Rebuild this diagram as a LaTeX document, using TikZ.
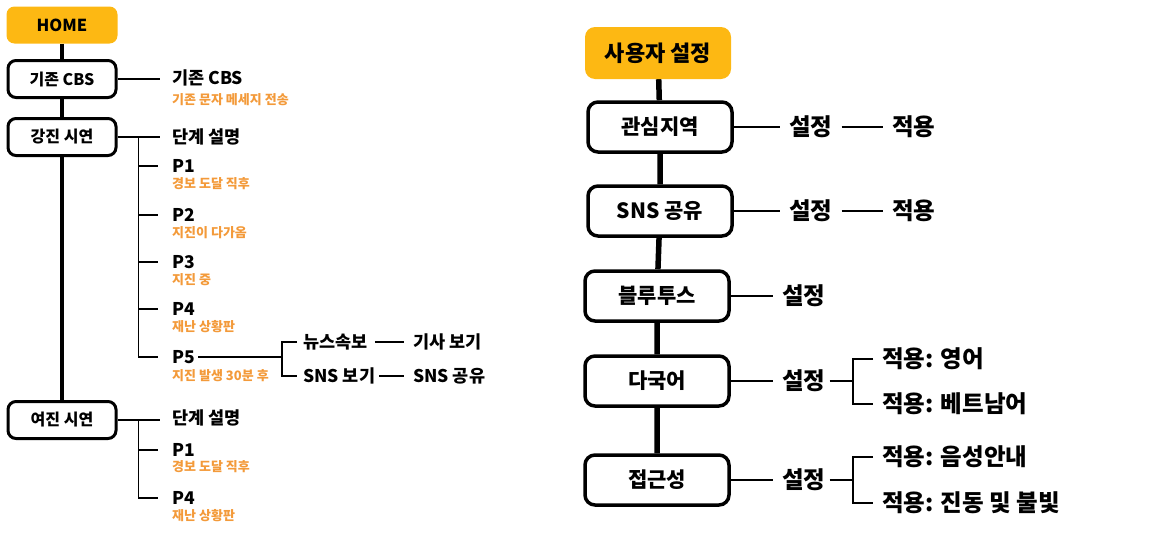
\documentclass[tikz,border=0pt]{standalone}
\usepackage{fontspec}
\usetikzlibrary{backgrounds}
\newfontfamily\kr{Noto Sans CJK KR}
\definecolor{homeorange}{HTML}{FDB813}
\definecolor{noteorange}{HTML}{F39A3A}
\tikzset{
  menu/.style={draw, line width=3pt, rounded corners=8pt, fill=white,
    minimum width=108pt, minimum height=37pt, inner sep=0pt,
    font=\kr\bfseries\fontsize{16}{18}\selectfont},
  topmenu/.style={fill=homeorange, rounded corners=8pt,
    minimum width=111pt, minimum height=37pt, inner sep=0pt,
    font=\kr\bfseries\fontsize{16.5}{18}\selectfont},
  setbox/.style={draw, line width=3.5pt, rounded corners=10pt, fill=white,
    minimum width=144pt, minimum height=50pt, inner sep=0pt,
    font=\kr\bfseries\fontsize{21}{23}\selectfont},
  settop/.style={fill=homeorange, rounded corners=10pt,
    minimum width=146pt, minimum height=52pt, inner sep=0pt,
    font=\kr\bfseries\fontsize{22}{24}\selectfont},
  item/.style={anchor=west, inner sep=1pt, font=\kr\bfseries\fontsize{17.5}{19}\selectfont},
  note/.style={anchor=west, inner sep=1pt, text=noteorange,
    font=\kr\bfseries\fontsize{13}{15}\selectfont},
  bigitem/.style={anchor=west, inner sep=1pt, font=\kr\bfseries\fontsize{23.5}{25}\selectfont},
  trunk/.style={line width=4.5pt},
  link/.style={line width=1.2pt},
}
\begin{document}
\begin{tikzpicture}[x=1pt,y=-1pt]
\useasboundingbox (0,0) rectangle (1162,541);

% left tree: HOME
\node[topmenu] (home) at (62,25) {HOME};
\node[menu] (cbs) at (62,79) {기존 CBS};
\node[menu] (gj) at (62,137) {강진 시연};
\node[menu] (yj) at (62,420) {여진 시연};
\begin{scope}[on background layer]
\draw[trunk] (home) -- (cbs) -- (gj) -- (yj);
\end{scope}

\node[item] (cbsI) at (171,78) {기존 CBS};
\node[note] (cbsN) at (171,100) {기존 문자 메세지 전송};
\draw[link] (cbs.east) -- ++(42,0);

% 강진 시연
\node[item] (gjS) at (171,137) {단계 설명};
\node[item] (gjP1) at (171,166) {P1};
\node[note] (gjN1) at (171,184) {경보 도달 직후};
\node[item] (gjP2) at (171,215) {P2};
\node[note] (gjN2) at (171,233) {지진이 다가옴};
\node[item] (gjP3) at (171,262) {P3};
\node[note] (gjN3) at (171,280) {지진 중};
\node[item] (gjP4) at (171,309) {P4};
\node[note] (gjN4) at (171,327) {재난 상황판};
\node[item] (gjP5) at (171,357) {P5};
\node[note] (gjN5) at (171,376) {지진 발생 30분 후};
\coordinate (gjB) at ([xshift=21pt]gj.east);
\draw[link] (gj.east) -- ++(42,0);
\draw[link] (gjB) |- ([xshift=-13pt]gjP5.west);
\foreach \n in {gjP1,gjP2,gjP3,gjP4}
  \draw[link] (gjB |- \n.west) -- ([xshift=-13pt]\n.west);

\node[item] (news) at (302,342) {뉴스속보};
\node[item] (snsv) at (302,376) {SNS 보기};
\node[item] (article) at (412,342) {기사 보기};
\node[item] (snss) at (412,376) {SNS 공유};
\coordinate (p5B) at (282,358);
\draw[link] ([xshift=2pt]gjP5.east) -- (gjP5.east -| p5B);
\draw[link] ([xshift=-5pt]news.west) -| (p5B |- snsv.west) -- ([xshift=-5pt]snsv.west);
\draw[link] ([xshift=6pt]news.east) -- ([xshift=-8pt]article.west);
\draw[link] ([xshift=3pt]snsv.east) -- ([xshift=-8pt]snss.west);

% 여진 시연
\node[item] (yjS) at (171,418) {단계 설명};
\node[item] (yjP1) at (171,450) {P1};
\node[note] (yjN1) at (171,467) {경보 도달 직후};
\node[item] (yjP4) at (171,498) {P4};
\node[note] (yjN4) at (171,516) {재난 상황판};
\coordinate (yjB) at ([xshift=21pt]yj.east);
\draw[link] (yj.east) -- ++(42,0);
\draw[link] (yjB) |- ([xshift=-13pt]yjP4.west);
\draw[link] (yjB |- yjP1.west) -- ([xshift=-13pt]yjP1.west);

% right tree: 사용자 설정
\node[settop] (user) at (658,53) {사용자 설정};
\node[setbox] (area) at (660,127) {관심지역};
\node[setbox] (sns) at (660,211) {SNS 공유};
\node[setbox] (bt) at (657,296) {블루투스};
\node[setbox] (lang) at (657,381) {다국어};
\node[setbox] (acc) at (657,480) {접근성};
\begin{scope}[on background layer]
\draw[line width=5.5pt] (user) -- (area) -- (sns) -- (bt) -- (lang) -- (acc);
\end{scope}

\node[bigitem] (areaS) at (788,127) {설정};
\node[bigitem] (areaA) at (891,127) {적용};
\node[bigitem] (snsS) at (788,211) {설정};
\node[bigitem] (snsA) at (891,211) {적용};
\node[bigitem] (btS) at (781,296) {설정};
\node[bigitem] (langS) at (781,381) {설정};
\node[bigitem] (langA) at (881,359) {적용: 영어};
\node[bigitem] (langB) at (881,404) {적용: 베트남어};
\node[bigitem] (accS) at (781,480) {설정};
\node[bigitem] (accA) at (881,457) {적용: 음성안내};
\node[bigitem] (accB) at (881,503) {적용: 진동 및 불빛};
\coordinate (langX) at ([xshift=-28pt]langB.west);
\coordinate (accX) at ([xshift=-28pt]accB.west);

\draw[link] (area.east) -- ([xshift=-8pt]areaS.west);
\draw[link] ([xshift=8pt]areaS.east) -- ([xshift=-8pt]areaA.west);
\draw[link] (sns.east) -- ([xshift=-8pt]snsS.west);
\draw[link] ([xshift=8pt]snsS.east) -- ([xshift=-8pt]snsA.west);
\draw[link] (bt.east) -- ([xshift=-8pt]btS.west);
\draw[link] (lang.east) -- ([xshift=-8pt]langS.west);
\draw[link] ([xshift=3pt]langS.east) -- (langS.east -| langX);
\draw[link] ([xshift=-8pt]langA.west) -| (langX) -- ([xshift=-8pt]langB.west);
\draw[link] (acc.east) -- ([xshift=-8pt]accS.west);
\draw[link] ([xshift=3pt]accS.east) -- (accS.east -| accX);
\draw[link] ([xshift=-8pt]accA.west) -| (accX) -- ([xshift=-8pt]accB.west);
\end{tikzpicture}
\end{document}
